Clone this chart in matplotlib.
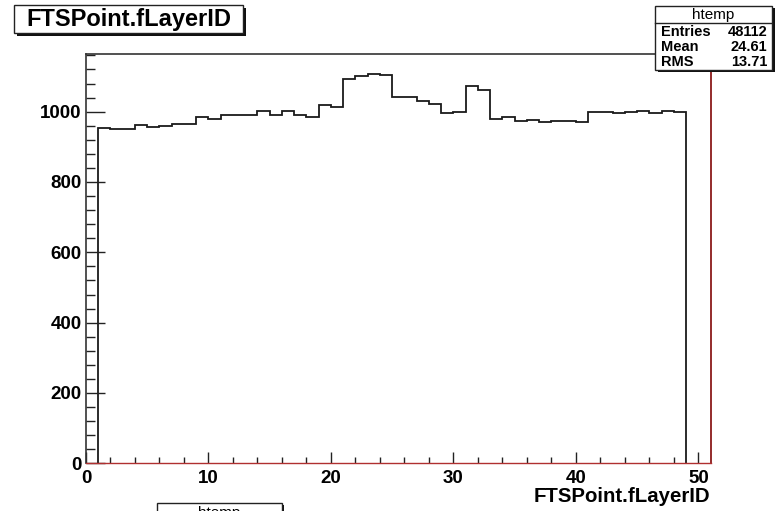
import matplotlib
matplotlib.use("Agg")
import matplotlib.pyplot as plt
from matplotlib.patches import Rectangle
from matplotlib.ticker import MultipleLocator

# ---- data ----
bin_edges = list(range(1, 50))  # 48 bins of width 1, from 1 to 49
counts = [953, 951, 951, 962, 956, 958, 964, 964, 986, 980,
          991, 991, 991, 1001, 990, 1002, 990, 984, 1019, 1012,
          1092, 1101, 1107, 1105, 1043, 1041, 1029, 1022, 997, 998,
          1073, 1063, 980, 985, 973, 977, 971, 973, 973, 970,
          998, 998, 995, 1000, 1002, 995, 1003, 999]
title = "FTSPoint.fLayerID"
xlabel = "FTSPoint.fLayerID"
stats_name = "htemp"
stats_rows = [("Entries", "48112"), ("Mean", "24.61"), ("RMS", "13.71")]

W, H = 779, 511
fig = plt.figure(figsize=(W / 100, H / 100), dpi=100)
fig.patch.set_facecolor("white")
plt.rcParams['font.family'] = ['Liberation Sans', 'DejaVu Sans']

def fx(px):
    return px / W

def fy(py):
    return 1 - py / H

ax_l, ax_r, ax_t, ax_b = 86, 710.7, 54, 463.3
ax = fig.add_axes([fx(ax_l), fy(ax_b), fx(ax_r - ax_l), (ax_b - ax_t) / H])
ax.stairs(counts, bin_edges, baseline=0, color="#1a1a1a", linewidth=1.3)
ax.set_xlim(0, 51)
ax.set_ylim(0, 1164)

ax.xaxis.set_major_locator(MultipleLocator(10))
ax.xaxis.set_minor_locator(MultipleLocator(2))
ax.yaxis.set_major_locator(MultipleLocator(200))
ax.yaxis.set_minor_locator(MultipleLocator(40))

ax.tick_params(axis='y', which='major', direction='in', length=13.5, width=1.0,
               labelsize=13.5, pad=3, color="#222222")
ax.tick_params(axis='y', which='minor', direction='in', length=6.5, width=1.0,
               color="#222222")
ax.tick_params(axis='x', which='major', direction='in', length=8, width=1.0,
               labelsize=13.5, pad=5, color="#222222")
ax.tick_params(axis='x', which='minor', direction='in', length=4, width=1.0,
               color="#222222")
for lab in ax.get_xticklabels() + ax.get_yticklabels():
    lab.set_fontweight('bold')

ax.spines['top'].set_color("#333333")
ax.spines['left'].set_color("#333333")
ax.spines['top'].set_linewidth(1.2)
ax.spines['left'].set_linewidth(1.2)
ax.spines['right'].set_color("#8b1a1a")
ax.spines['right'].set_linewidth(1.3)
ax.spines['bottom'].set_color("#b03030")
ax.spines['bottom'].set_linewidth(1.0)

ax.set_xlabel(xlabel, fontsize=14.7, fontweight='bold', loc='right', labelpad=0)

# ---- boxes with ROOT-like shadow ----
def shadow_box(x0, y0, x1, y1, shadow=3, lw=1.0):
    fig.add_artist(Rectangle((fx(x0 + shadow), fy(y1 + shadow)),
                             fx(x1 - x0), (y1 - y0) / H,
                             transform=fig.transFigure, facecolor="#111111",
                             edgecolor="none", zorder=10, clip_on=False))
    fig.add_artist(Rectangle((fx(x0), fy(y1)), fx(x1 - x0), (y1 - y0) / H,
                             transform=fig.transFigure, facecolor="white",
                             edgecolor="#222222", linewidth=lw, zorder=11,
                             clip_on=False))

# title box
shadow_box(14, 5, 243, 33)
fig.text(fx(129), fy(19.5), title, fontsize=17, fontweight='bold',
         ha='center', va='center', zorder=12)

# stats box
sx0, sy0, sx1, sy1 = 655, 6, 772, 70
shadow_box(sx0, sy0, sx1, sy1, shadow=2.5)
fig.text(fx((sx0 + sx1) / 2), fy(14.5), stats_name, fontsize=11,
         ha='center', va='center', zorder=12)
fig.add_artist(plt.Line2D([fx(sx0), fx(sx1)], [fy(22.7), fy(22.7)],
                          transform=fig.transFigure, color="#222222",
                          linewidth=1.0, zorder=12))
row_y = [31.7, 47.3, 62.5]
for (name, val), yy in zip(stats_rows, row_y):
    fig.text(fx(661), fy(yy), name, fontsize=10.5, fontweight='bold',
             ha='left', va='center', zorder=12)
    fig.text(fx(767), fy(yy), val, fontsize=10.5, fontweight='bold',
             ha='right', va='center', zorder=12)

# partially visible box at the bottom edge (cut off as in the reference)
shadow_box(157, 502.5, 281.5, 530, shadow=2.5)
fig.text(fx(219), fy(512.5), stats_name, fontsize=11, ha='center',
         va='center', zorder=12)

fig.savefig("out.png", dpi=100, facecolor="white")
